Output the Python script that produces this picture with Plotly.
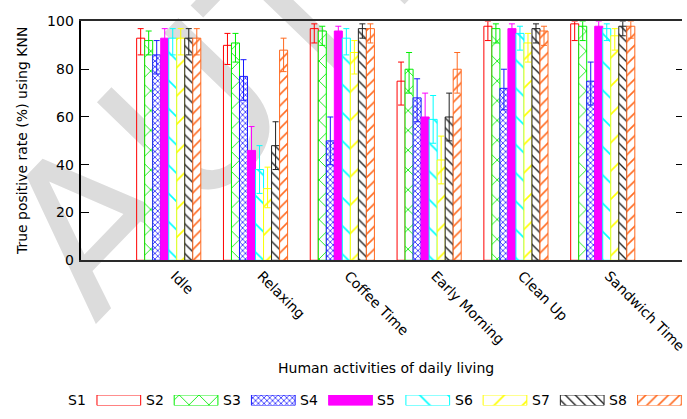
import plotly.graph_objects as go

# ---------------- data ----------------
categories = ["Idle", "Relaxing", "Coffee Time", "Early Morning", "Clean Up", "Sandwich Time"]
series_names = ["S1", "S2", "S3", "S4", "S5", "S6", "S7", "S8"]

s1 = [93, 90, 97, 75, 98, 99]
s2 = [92, 91, 96, 80, 97, 98]
s3 = [86, 77, 50, 68, 72, 75]
s4 = [93, 46, 96, 60, 97, 98]
s5 = [93, 38, 93, 59, 95, 97]
s6 = [93, 30, 87, 42, 91, 94]
s7 = [93, 48, 97, 60, 97, 98]
s8 = [93, 88, 97, 80, 96, 98]

s1_err_up = [4, 5, 2, 8, 2, 1]
s2_err_up = [4, 4, 2, 7, 2, 2]
s3_err_up = [6, 7, 10, 8, 8, 8]
s4_err_up = [4, 10, 2, 10, 2, 2]
s5_err_up = [4, 10, 4, 10, 3, 2]
s6_err_up = [4, 9, 5, 10, 4, 3]
s7_err_up = [4, 10, 2, 10, 2, 2]
s8_err_up = [4, 5, 2, 7, 2, 2]

s1_err_down = [7, 8, 6, 10, 6, 7]
s2_err_down = [6, 8, 6, 10, 6, 6]
s3_err_down = [8, 10, 10, 10, 9, 10]
s4_err_down = [7, 10, 6, 10, 6, 6]
s5_err_down = [7, 10, 7, 10, 7, 5]
s6_err_down = [7, 8, 9, 10, 8, 6]
s7_err_down = [7, 10, 4, 10, 6, 4]
s8_err_down = [7, 9, 6, 10, 6, 5]

y_ticks = [0, 20, 40, 60, 80, 100]

values = [s1, s2, s3, s4, s5, s6, s7, s8]
err_up = [s1_err_up, s2_err_up, s3_err_up, s4_err_up, s5_err_up, s6_err_up, s7_err_up, s8_err_up]
err_down = [s1_err_down, s2_err_down, s3_err_down, s4_err_down, s5_err_down, s6_err_down, s7_err_down, s8_err_down]

# ---------------- styles ----------------
colors = ["#ff0000", "#00ee00", "#1a1aff", "#ff00ff", "#00ffff", "#ffff00", "#222222", "#ff6a20"]
# (shape, size, solidity); None = empty, "solid" = filled
patterns = [None, ("x", 14, 0.12), ("x", 4, 0.35), "solid", ("\\", 20, 0.08),
            ("/", 20, 0.08), ("\\", 7, 0.2), ("/", 8, 0.2)]

W, H = 687, 419
FONT = "DejaVu Sans"


def marker_for(i):
    c = colors[i]
    p = patterns[i]
    if p is None:
        return dict(color="rgba(255,255,255,0)", line=dict(color=c, width=1))
    if p == "solid":
        return dict(color=c, line=dict(color=c, width=1))
    shape, size, sol = p
    return dict(color=c, line=dict(color=c, width=1),
                pattern=dict(shape=shape, size=size, solidity=sol,
                             fgcolor=c, bgcolor="white", fillmode="replace"))


fig = go.Figure()

for i, name in enumerate(series_names):
    fig.add_trace(go.Bar(
        x=categories, y=values[i], name=name,
        marker=marker_for(i),
        error_y=dict(type="data", symmetric=False, array=err_up[i], arrayminus=err_down[i],
                     color=colors[i], thickness=1, width=3),
        showlegend=False, xaxis="x", yaxis="y",
    ))

# invisible trace carrying the mirrored right-hand ticks
fig.add_trace(go.Scatter(x=[categories[0]], y=[None], xaxis="x", yaxis="y2",
                         mode="markers", showlegend=False, hoverinfo="skip"))

# custom legend: label first, swatch after (as in the original)
for i, name in enumerate(series_names):
    fig.add_trace(go.Bar(
        x=[i], y=[1], width=[0.566], offset=-0.283,
        marker=marker_for(i), showlegend=False, xaxis="x3", yaxis="y3", hoverinfo="skip",
    ))

main_x_dom = [82 / W, 1.0]
main_y_dom = [1 - 262.3 / H, 1 - 14 / H]

annotations = []
for i, name in enumerate(series_names):
    annotations.append(dict(text=name, x=i - 0.283 - 0.11, xref="x3", xanchor="right",
                            y=1 - 408 / H, yref="paper", yanchor="middle", showarrow=False,
                            font=dict(family=FONT, size=14, color="black")))

annotations.append(dict(text="Human activities of daily living", x=389 / W, y=1 - 374 / H,
                        xref="paper", yref="paper", xanchor="center", yanchor="middle",
                        showarrow=False, font=dict(family=FONT, size=14, color="black")))
annotations.append(dict(text="True positive rate (%) using KNN", x=21.5 / W, y=1 - 138 / H,
                        xref="paper", yref="paper", xanchor="center", yanchor="middle",
                        textangle=-90, showarrow=False,
                        font=dict(family=FONT, size=14, color="black")))

# faint watermark behind the bars (cut by the page edges, as in the original)
wm_cx, wm_cy = 345 / W, 1 + 68 / H
shapes = [dict(type="rect", xref="paper", yref="paper", layer="below",
               x0=wm_cx - 0.001, x1=wm_cx + 0.001, y0=wm_cy - 0.001, y1=wm_cy + 0.001,
               line=dict(width=0), fillcolor="rgba(0,0,0,0)",
               label=dict(text="AUTHOR", textangle=-46, textposition="middle center",
                          font=dict(family=FONT, size=210, color="#dcdcdc")))]

fig.update_layout(
    width=W, height=H,
    margin=dict(l=0, r=0, t=0, b=0),
    paper_bgcolor="white", plot_bgcolor="rgba(0,0,0,0)",
    barmode="group", bargap=0.261, bargroupgap=0,
    showlegend=False,
    font=dict(family=FONT, size=14, color="black"),
    xaxis=dict(domain=main_x_dom, anchor="y", range=[-1.006, 5.913],
               tickangle=45, ticks="", showline=True, linecolor="#2a2a2a", linewidth=2,
               mirror=True, showgrid=False, zeroline=False, ticklabelshift=6,
               tickfont=dict(family=FONT, size=14, color="black")),
    yaxis=dict(domain=main_y_dom, anchor="x", range=[0, 100], tickvals=y_ticks,
               ticks="inside", ticklen=8, tickwidth=1, tickcolor="black",
               showline=True, linecolor="black", linewidth=1.5,
               showgrid=False, zeroline=False, ticklabelstandoff=3,
               tickfont=dict(family=FONT, size=14, color="black")),
    yaxis2=dict(overlaying="y", side="right", anchor="x", range=[0, 100], tickvals=y_ticks[1:-1],
                ticks="inside", ticklen=6, tickwidth=1, tickcolor="black",
                showticklabels=False, showline=False, showgrid=False, zeroline=False),
    xaxis3=dict(domain=[80.8 / W, 1.0], anchor="y3", type="linear", range=[-0.5, 7.292],
                visible=False, fixedrange=True),
    yaxis3=dict(domain=[1 - 413.3 / H, 1 - 402.3 / H], anchor="x3", range=[0, 1],
                visible=False, fixedrange=True),
    annotations=annotations,
    shapes=shapes,
)

fig.write_html("out.html")
